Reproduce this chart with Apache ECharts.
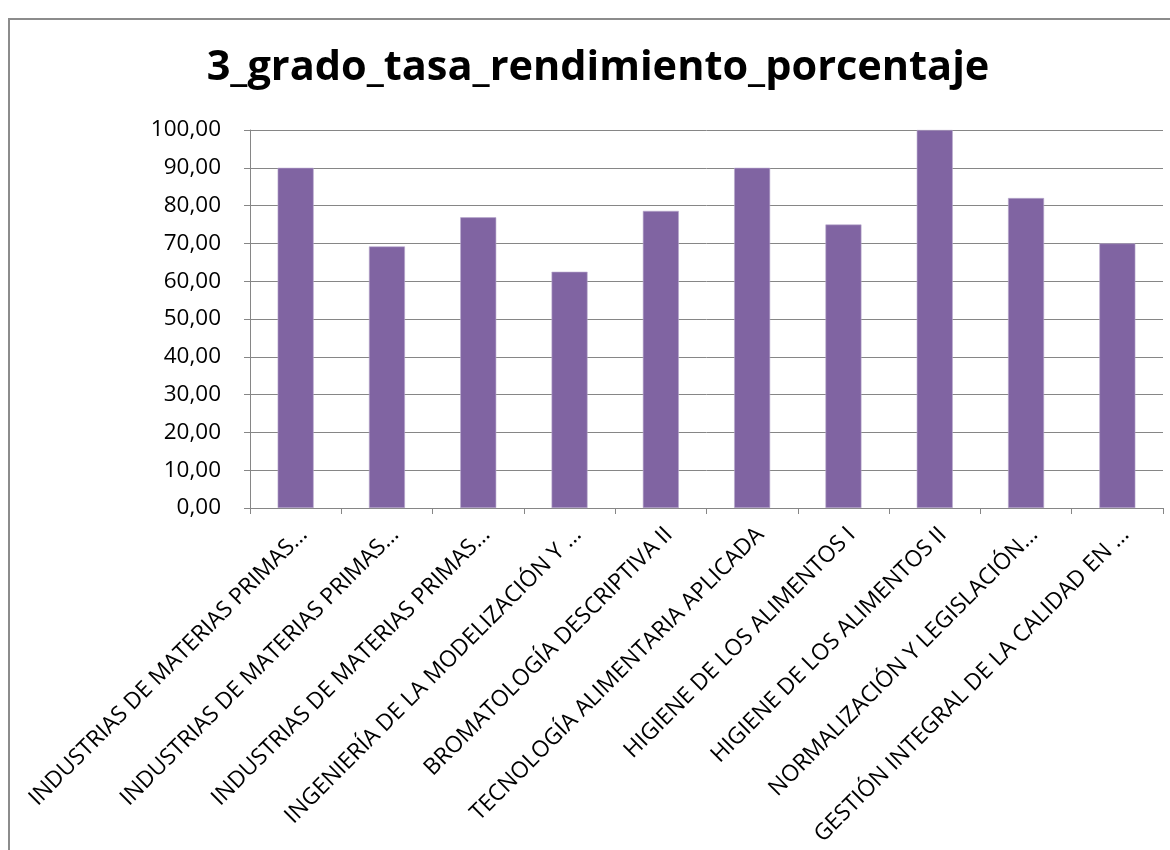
<!DOCTYPE html>
<html>
<head>
<meta charset="utf-8">
<script src="https://cdn.jsdelivr.net/npm/echarts@6/dist/echarts.min.js"></script>
<style>
  html, body { margin: 0; padding: 0; background: #ffffff; }
  #frame { position: absolute; left: 8px; top: 18px; width: 1180px; height: 860px;
           border: 2px solid #8c8c8c; box-sizing: border-box; }
  #chart { position: absolute; left: 0; top: 0; width: 1170px; height: 850px; }
</style>
</head>
<body>
<div id="frame"></div>
<div id="chart"></div>
<script>
// Asignaturas (etiquetas tal como aparecen en el eje)
const categories = [
  'INDUSTRIAS DE MATERIAS PRIMAS…',
  'INDUSTRIAS DE MATERIAS PRIMAS…',
  'INDUSTRIAS DE MATERIAS PRIMAS…',
  'INGENIERÍA DE LA MODELIZACIÓN Y …',
  'BROMATOLOGÍA DESCRIPTIVA II',
  'TECNOLOGÍA ALIMENTARIA APLICADA',
  'HIGIENE DE LOS ALIMENTOS I',
  'HIGIENE DE LOS ALIMENTOS II',
  'NORMALIZACIÓN Y LEGISLACIÓN…',
  'GESTIÓN INTEGRAL DE LA CALIDAD EN …'
];
// Tasa de rendimiento (%)
const values = [90.0, 69.2, 76.9, 62.5, 78.6, 90.0, 75.0, 100.0, 82.0, 70.0];
const chartTitle = '3_grado_tasa_rendimiento_porcentaje';

const chart = echarts.init(document.getElementById('chart'));
const font = '"Open Sans", "Noto Sans", sans-serif';
chart.setOption({
  animation: false,
  backgroundColor: 'transparent',
  title: {
    text: chartTitle,
    left: 593, top: 42, textAlign: 'center',
    textStyle: { fontFamily: font, fontWeight: 'bold', fontSize: 41.5, color: '#000000' }
  },
  grid: {
    left: 250, right: 7, top: 130, bottom: 342,
    containLabel: false, outerBoundsMode: 'none'
  },
  xAxis: {
    type: 'category',
    data: categories,
    boundaryGap: true,
    axisLine: { lineStyle: { color: '#868686', width: 1 } },
    axisTick: { show: true, alignWithLabel: false, length: 6, lineStyle: { color: '#868686' } },
    axisLabel: {
      interval: 0, rotate: 45, margin: 15, verticalAlign: 'top',
      fontFamily: font, fontSize: 22.8, color: '#000000'
    }
  },
  yAxis: {
    type: 'value',
    min: 0, max: 100, interval: 10,
    axisLine: { show: true, lineStyle: { color: '#868686', width: 1 } },
    axisTick: { show: true, length: 6, lineStyle: { color: '#868686' } },
    splitLine: { lineStyle: { color: '#868686', width: 1 } },
    axisLabel: {
      margin: 29, fontFamily: font, fontSize: 22.5, color: '#000000',
      formatter: v => v.toFixed(2).replace('.', ',')
    }
  },
  series: [{
    type: 'bar',
    data: values,
    barWidth: 36,
    itemStyle: { color: '#8064A2', borderColor: '#b9a9cc', borderWidth: 0.6 }
  }]
});
</script>
</body>
</html>
